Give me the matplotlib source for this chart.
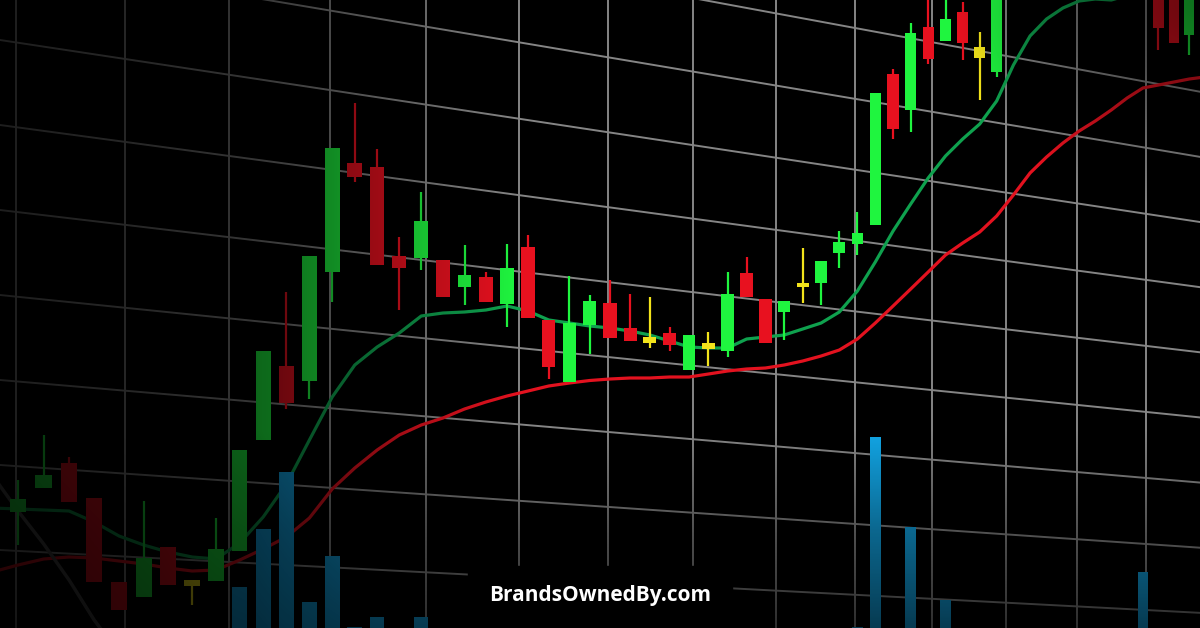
import numpy as np
import matplotlib
matplotlib.use('Agg')
import matplotlib.pyplot as plt
from matplotlib.patches import Rectangle

nan = np.nan

# --- candles (arbitrary price units), index 0..59 ---
# G = up, R = down, Y = doji/neutral ; '' = candle outside the visible window
kinds = list("GGRRRGRYGG" "GRGGRRRGRG" "RGRRGGRRYR" "GYGRRGYGGG" "GRGRGRYG") + [''] * 9 + list("RRG")

opens = [23.2, 28.0, 33.0, 26.0, 9.2, 6.2, 16.2, 9.6, 9.4, 15.4,
         37.6, 52.4, 49.4, 71.2, 93.0, 92.2, 74.4, 74.0, 73.6, 68.2,
         70.2, 64.8, 76.2, 61.6, 49.2, 60.6, 65.0, 60.0, 58.2, 59.0,
         51.6, 57.0, 55.4, 71.0, 65.8, 63.2, 69.0, 69.0, 75.0, 76.8,
         80.6, 110.8, 103.6, 120.2, 117.4, 123.2, 116.2, 111.2,
         nan, nan, nan, nan, nan, nan, nan, nan, nan,
         131.0, 132.0, 118.6]
highs = [29.6, 38.6, 34.2, 26.0, 9.2, 25.4, 16.2, 9.6, 22.0, 35.6,
         55.4, 67.2, 74.4, 96.0, 105.0, 95.8, 78.2, 87.2, 73.6, 76.6,
         71.2, 76.8, 78.6, 61.6, 70.4, 66.6, 69.6, 66.8, 66.2, 60.2,
         58.6, 59.2, 71.2, 74.2, 65.8, 65.4, 76.0, 73.4, 79.4, 83.2,
         107.0, 111.8, 121.0, 127.0, 127.0, 125.2, 119.2, 131.0,
         nan, nan, nan, nan, nan, nan, nan, nan, nan,
         133.0, 134.0, 134.0]
lows = [16.6, 28.0, 25.2, 9.2, 3.6, 6.2, 8.6, 4.6, 9.4, 15.4,
        37.6, 43.8, 45.8, 65.2, 89.2, 72.6, 63.6, 71.6, 66.2, 64.6,
        65.2, 60.2, 62.0, 49.8, 49.2, 54.8, 58.0, 57.4, 56.0, 55.4,
        51.6, 52.4, 54.2, 66.2, 57.0, 57.6, 65.0, 64.6, 72.0, 74.6,
        80.6, 97.8, 99.2, 112.8, 117.4, 113.6, 105.6, 110.2,
        nan, nan, nan, nan, nan, nan, nan, nan, nan,
        115.6, 117.0, 114.6]
closes = [25.8, 30.6, 25.2, 9.2, 3.6, 14.0, 8.6, 8.4, 15.8, 35.6,
          55.4, 45.0, 74.4, 96.0, 90.2, 72.6, 72.0, 81.4, 66.2, 70.6,
          65.2, 72.0, 62.0, 52.2, 61.0, 65.4, 58.0, 57.4, 57.0, 56.6,
          58.6, 55.8, 66.8, 66.2, 57.0, 65.4, 68.2, 73.4, 77.2, 79.0,
          107.0, 99.8, 119.0, 113.8, 121.8, 117.0, 114.0, 130.0,
          nan, nan, nan, nan, nan, nan, nan, nan, nan,
          120.0, 117.0, 133.0]

# volume bars (same units), index 0..59
volume = [0, 0, 0, 0, 0, 0, 0, 0, 0, 8.2,
          19.8, 31.2, 5.2, 14.4, 0.3, 2.2, 0, 2.2, 0, 0,
          0, 0, 0, 0, 0, 0, 0, 0, 0, 0,
          0, 0, 0, 0, 0, 0, 0, 0, 0, 0.3,
          38.2, 0, 20.2, 0, 5.6, 0, 0, 0, 0, 0,
          0, 0, 0, 0, 0, 0, 11.2, 0, 0, 0]

# moving averages, index -1..60
ma_fast = [24.0, 23.8, 23.6, 23.4, 21.2, 18.4, 16.6, 15.2, 14.2, 13.8,
           17.0, 22.2, 28.8, 37.6, 46.2, 52.6, 56.2, 59.0, 62.4, 63.0,
           63.2, 63.6, 64.4, 63.4, 61.6, 61.0, 60.4, 60.0, 59.4, 58.6,
           57.4, 56.2, 56.0, 56.0, 57.8, 58.2, 58.6, 59.8, 61.0, 63.2,
           67.4, 73.2, 79.4, 84.8, 90.0, 94.4, 97.8, 100.8, 105.4, 112.6,
           118.4, 121.8, 124.0, 125.4, 125.8, 125.6, 126.5, nan, nan, nan,
           nan, nan]
ma_slow = [11.2, 12.6, 13.8, 14.2, 14.0, 13.4, 12.8, 12.0, 11.4, 11.6,
           13.6, 15.8, 18.2, 22.0, 27.8, 32.0, 35.6, 38.6, 40.6, 42.0,
           43.8, 45.2, 46.4, 47.4, 48.4, 49.0, 49.5, 49.8, 50.0, 50.0,
           50.2, 50.2, 50.8, 51.4, 51.8, 52.0, 52.6, 53.4, 54.4, 55.6,
           57.8, 61.0, 64.4, 67.8, 71.2, 74.6, 77.0, 79.2, 82.4, 86.6,
           91.0, 94.2, 97.0, 99.4, 101.4, 103.6, 106.0, 108.0, 108.6, 109.2,
           109.8, 110.2]
ma_dark = [30.6, 23.4, 16.8, 9.6, 1.6, -5.0]   # index -1..4

# horizontal grid levels at the left edge
grid_levels = [151.6, 134.6, 117.6, 100.6, 83.6, 66.6, 49.6, 32.6, 15.6]
vanish_level = -38.2

# perspective along x
C = 198.8


def fwd(i):
    return -1.0 / (np.asarray(i, dtype=float) + C)


def inv(u):
    return -1.0 / np.asarray(u, dtype=float) - C


colors = {'G': '#1ff53f', 'R': '#e8111f', 'Y': '#f2e31b'}

fig = plt.figure(figsize=(12, 6.28), dpi=100, facecolor='black')
ax = fig.add_axes([0, 0, 1, 1])
ax.set_facecolor('black')
ax.set_xscale('function', functions=(fwd, inv))
x_lo, x_hi = -0.7, 59.7
ax.set_xlim(x_lo, x_hi)
ax.set_ylim(0, 125.6)
ax.axis('off')

# perspective grid
grid_c = '#858585'
for g in np.arange(-0.1, 61, 4.33):
    ax.axvline(g, color=grid_c, lw=1.4, zorder=1)
fl, fr = fwd(x_lo), fwd(x_hi)
for p0 in grid_levels:
    pr = p0 + (vanish_level - p0) * (fr - fl) / (0 - fl)
    ax.plot([x_lo, x_hi], [p0, pr], color=grid_c, lw=1.4, zorder=1)

# moving averages
ma_idx = np.arange(-1, 61)
ax.plot(ma_idx, ma_fast, color='#0fa14e', lw=2.3, zorder=2, solid_joinstyle='round')
ax.plot(ma_idx, ma_slow, color='#e3121f', lw=2.3, zorder=2, solid_joinstyle='round')
ax.plot(np.arange(-1, 5), ma_dark, color='#505050', lw=2.5, zorder=2)

# volume
idx = np.arange(len(opens))
ax.bar(idx, volume, width=0.65, bottom=0, color='#12a6e6', zorder=2)

# candles
for i in idx:
    k = kinds[i]
    if not k:
        continue
    c = colors[k]
    ax.vlines(i, lows[i], highs[i], color=c, lw=1.6, zorder=3)
    lo, hi = min(opens[i], closes[i]), max(opens[i], closes[i])
    ax.bar(i, hi - lo, bottom=lo, width=0.65, color=c, zorder=3)

# lighting: dark vignette over the left, bottom and top-right corner
H, W = 628, 1200
yy, xx = np.mgrid[0:H, 0:W] + 0.5
hx = np.interp(xx, [0, 150, 250, 330, 430, 520], [0.22, 0.3, 0.4, 0.56, 0.8, 1.0])
vy = np.interp(yy, [0, 430, 530, 628], [1.0, 1.0, 0.62, 0.35])
wy = np.interp(xx, [200, 500], [0.45, 1.0])
r = np.hypot(1200 - xx, 1.2 * yy)
cr = np.interp(r, [0, 100, 250], [0.45, 0.6, 1.0])
shade = np.zeros((H, W, 4))
shade[..., 3] = 1 - hx * (1 - (1 - vy) * wy) * cr

ax2 = fig.add_axes([0, 0, 1, 1], zorder=5)
ax2.patch.set_alpha(0)
ax2.imshow(shade, extent=(0, W, H, 0), aspect='auto', interpolation='bilinear')
ax2.set_xlim(0, W)
ax2.set_ylim(H, 0)
ax2.axis('off')

# watermark
ax2.add_patch(Rectangle((468, 566), 264, 62, color='black', zorder=10))
ax2.text(600, 596, 'BrandsOwnedBy.com', color='white', fontsize=15,
         fontweight='bold', family=['Open Sans', 'DejaVu Sans'],
         ha='center', va='center', zorder=11)

fig.savefig('out.png', dpi=100, facecolor='black')
